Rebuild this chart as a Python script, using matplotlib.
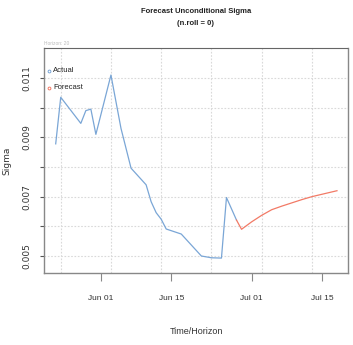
import numpy as np
import pandas as pd
import matplotlib
matplotlib.use("Agg")
import matplotlib.pyplot as plt
import matplotlib.dates as mdates

# fitted sigma (last part of the sample)
actual_dates = ["2015-05-23", "2015-05-24", "2015-05-28", "2015-05-29", "2015-05-30",
                "2015-05-31", "2015-06-03", "2015-06-05", "2015-06-07", "2015-06-10",
                "2015-06-11", "2015-06-12", "2015-06-13", "2015-06-14", "2015-06-17",
                "2015-06-19", "2015-06-21", "2015-06-23", "2015-06-25", "2015-06-26",
                "2015-06-28"]
actual_sigma = [0.00878, 0.01035, 0.00947, 0.00990, 0.00995,
                0.00910, 0.01110, 0.00930, 0.00796, 0.00740,
                0.00683, 0.00646, 0.00624, 0.00591, 0.00574,
                0.00537, 0.00500, 0.00494, 0.00493, 0.00697,
                0.00621]

# n.ahead forecast of sigma
fc_dates = ["2015-06-28", "2015-06-29", "2015-07-01", "2015-07-03", "2015-07-05",
            "2015-07-07", "2015-07-09", "2015-07-11", "2015-07-13", "2015-07-15",
            "2015-07-18"]
fc_sigma = [0.00621, 0.00590, 0.00615, 0.00637, 0.00656,
            0.00668, 0.00679, 0.00690, 0.00700, 0.00708,
            0.00720]

xticks = ["2015-06-01", "2015-06-15", "2015-07-01", "2015-07-15"]
xgrid = ["2015-05-24", "2015-06-03", "2015-06-13", "2015-06-23", "2015-07-03", "2015-07-13"]
yticks = [0.005, 0.006, 0.007, 0.008, 0.009, 0.010, 0.011]

narrow = ["Liberation Sans Narrow", "Liberation Sans", "DejaVu Sans"]

ta = pd.to_datetime(actual_dates)
tf = pd.to_datetime(fc_dates)

fig = plt.figure(figsize=(3.53, 3.45), dpi=100)
ax = fig.add_axes([0.1246, 0.2087, 0.8614, 0.6522])

for g in pd.to_datetime(xgrid):
    ax.axvline(g, color="#d9d9d9", lw=0.8, ls=(0, (1.5, 1.5)), zorder=0)
for v in yticks:
    ax.axhline(v, color="#d9d9d9", lw=0.8, ls=(0, (1.5, 1.5)), zorder=0)

ax.plot(ta, actual_sigma, color="#7aa6d6", lw=0.9)
ax.plot(tf, fc_sigma, color="#f27a66", lw=0.9)

ax.set_xlim(pd.Timestamp("2015-05-20 16:00"), pd.Timestamp("2015-07-20 05:00"))
ax.set_ylim(0.004427, 0.012011)

ax.set_yticks(yticks)
ax.set_yticklabels(["0.005", "", "0.007", "", "0.009", "", "0.011"],
                   rotation=90, va="center", fontsize=6.5, color="#333333")
ax.tick_params(axis="y", length=3, width=0.8, color="#555555", pad=6)

ax.set_xticks(pd.to_datetime(xticks))
ax.xaxis.set_major_formatter(mdates.DateFormatter("%b %d"))
ax.tick_params(axis="x", length=6, width=0.8, color="#888888", pad=10)
for lab in ax.get_xticklabels():
    lab.set_family(narrow)
    lab.set_fontsize(6)
    lab.set_color("#333333")

for s in ["left", "bottom", "right"]:
    ax.spines[s].set_color("#888888")
    ax.spines[s].set_linewidth(1.0)
ax.spines["top"].set_color("#666666")
ax.spines["top"].set_linestyle((0, (1, 1)))
ax.spines["top"].set_linewidth(0.8)

ax.set_ylabel("Sigma", fontsize=6.5, color="#333333", labelpad=8)
ax.set_xlabel("Time/Horizon", family=narrow, fontsize=6.5, color="#333333", labelpad=18)

fig.text(0.555, 0.968, "Forecast Unconditional Sigma", family=narrow, fontsize=5.5,
         fontweight="bold", ha="center", va="center", color="#222222")
fig.text(0.555, 0.933, "(n.roll = 0)", family=narrow, fontsize=5.5,
         fontweight="bold", ha="center", va="center", color="#222222")
fig.text(0.1246, 0.875, "Horizon: 20", family=narrow, fontsize=3.5,
         ha="left", va="center", color="#bbbbbb")

# legend: small circles with labels, no frame
ax.plot([0.015], [0.898], "o", ms=2, mfc="none", mec="#7aa6d6", mew=0.7, transform=ax.transAxes)
ax.text(0.03, 0.898, "Actual", transform=ax.transAxes, family=narrow, fontsize=5.5,
        va="center", color="#222222")
ax.plot([0.015], [0.823], "o", ms=2, mfc="none", mec="#f27a66", mew=0.7, transform=ax.transAxes)
ax.text(0.03, 0.823, "Forecast", transform=ax.transAxes, family=narrow, fontsize=5.5,
        va="center", color="#222222")

fig.savefig("out.png", dpi=100)
